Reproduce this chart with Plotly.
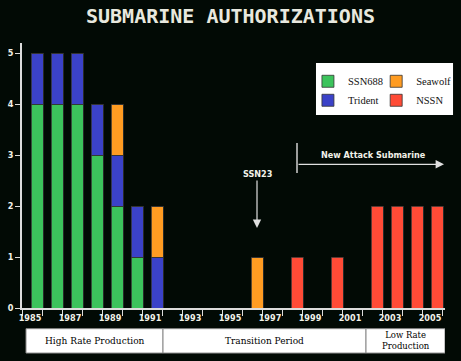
import plotly.graph_objects as go

years = list(range(1985, 2006))
ssn688 = [4, 4, 4, 3, 2, 1, 0, 0, 0, 0, 0, 0, 0, 0, 0, 0, 0, 0, 0, 0, 0]
trident = [1, 1, 1, 1, 1, 1, 1, 0, 0, 0, 0, 0, 0, 0, 0, 0, 0, 0, 0, 0, 0]
seawolf = [0, 0, 0, 0, 1, 0, 1, 0, 0, 0, 0, 1, 0, 0, 0, 0, 0, 0, 0, 0, 0]
nssn = [0, 0, 0, 0, 0, 0, 0, 0, 0, 0, 0, 0, 0, 1, 0, 1, 0, 2, 2, 2, 2]
label_years = list(range(1985, 2006, 2))
y_ticks = [0, 1, 2, 3, 4, 5]

series = [
    ("SSN688", ssn688, "#3cc35c", "legend"),
    ("Trident", trident, "#3b42c8", "legend"),
    ("Seawolf", seawolf, "#ff9c22", "legend2"),
    ("NSSN", nssn, "#ff4b36", "legend2"),
]

fig = go.Figure()
for name, vals, col, lg in series:
    fig.add_trace(go.Bar(
        x=years, y=vals, name=name, width=0.6,
        marker=dict(color=col, line=dict(width=0.8, color="#333")),
        legend=lg,
    ))

txt = "#f2f2ea"
lab_font = dict(family="Liberation Sans Narrow, DejaVu Sans Condensed, Arial Narrow, sans-serif",
                size=9, color=txt, weight="bold")
serif = dict(family="Liberation Serif, DejaVu Serif, serif", size=10.5, color="#111")

fig.update_layout(
    width=461, height=361,
    paper_bgcolor="#020a05", plot_bgcolor="#020a05",
    margin=dict(l=22, r=16, t=43, b=53, autoexpand=False),
    barmode="stack", bargap=0.4,
    title=dict(text="<b>SUBMARINE AUTHORIZATIONS</b>", x=0.5, xanchor="center",
               y=0.955, yanchor="middle",
               font=dict(family="DejaVu Sans Mono, Liberation Mono, monospace", size=20, color="#e8e8de")),
    xaxis=dict(range=[1984.25, 2005.4], showgrid=False, zeroline=False, automargin=False,
               showline=True, linecolor="#dcdcdc", linewidth=1.5,
               tickvals=[y - 0.35 for y in label_years], ticktext=[str(y) for y in label_years],
               ticks="", tickfont=lab_font,
               minor=dict(tick0=1984.25, dtick=1, ticks="outside", ticklen=6,
                          tickcolor="#dcdcdc", tickwidth=1, showgrid=False)),
    yaxis=dict(range=[0, 5.2], showgrid=False, zeroline=False, automargin=False,
               showline=True, linecolor="#dcdcdc", linewidth=1.5,
               tickvals=y_ticks, ticks="outside", ticklen=5, tickcolor="#dcdcdc",
               tickfont=lab_font),
    legend=dict(x=0.668, y=0.815, xref="container", yref="container",
                xanchor="left", yanchor="top", traceorder="normal",
                bgcolor="rgba(0,0,0,0)", font=serif, itemwidth=30,
                tracegroupgap=0),
    legend2=dict(x=0.816, y=0.815, xref="container", yref="container",
                 xanchor="left", yanchor="top", traceorder="normal",
                 bgcolor="rgba(0,0,0,0)", font=serif, itemwidth=30,
                 tracegroupgap=0),
    showlegend=True,
)

# legend background box
fig.add_shape(type="rect", xref="paper", yref="paper", x0=0.695, x1=1.019, y0=0.728, y1=0.9245,
              fillcolor="white", line=dict(width=0), layer="below")

# bottom period boxes
boxes = [
    (1984.45, 1991.3, "High Rate Production"),
    (1991.3, 2001.45, "Transition Period"),
    (2001.45, 2005.4, "Low Rate<br>Production"),
]
for x0, x1, label in boxes:
    fig.add_shape(type="rect", xref="x", yref="paper", x0=x0, x1=x1, y0=-0.17, y1=-0.078,
                  fillcolor="white", line=dict(color="#888", width=1))
    fig.add_annotation(x=(x0 + x1) / 2, y=-0.124, xref="x", yref="paper", text=label,
                       showarrow=False, xanchor="center", yanchor="middle",
                       font=dict(family="DejaVu Serif, Liberation Serif, serif",
                                 size=9 if "<br>" not in label else 8.5, color="black"))

ann_font = dict(family="DejaVu Sans Condensed, Liberation Sans Narrow, sans-serif", size=9,
                color=txt, weight="bold")
# SSN23 arrow
fig.add_annotation(x=1996, y=1.57, xref="x", yref="y", text="SSN23", showarrow=True,
                   ax=0, ay=-54, arrowhead=2, arrowsize=1.4, arrowwidth=1.2,
                   arrowcolor="#e0e0e0", font=ann_font)
# New Attack Submarine
fig.add_shape(type="line", xref="x", yref="y", x0=1998, x1=1998, y0=2.65, y1=3.24,
              line=dict(color="#d0d0d0", width=1.5))
fig.add_annotation(x=2005.35, y=2.82, xref="x", yref="y", ax=1998, ay=2.82, axref="x", ayref="y",
                   text="", showarrow=True, arrowhead=2, arrowsize=1.4, arrowwidth=1.2,
                   arrowcolor="#e0e0e0")
fig.add_annotation(x=2001.8, y=3.0, xref="x", yref="y", text="New Attack Submarine",
                   showarrow=False, font=ann_font)

fig.write_html("out.html", config={"displayModeBar": False},
               post_script="document.body.style.margin='0';document.body.style.background='#020a05';")
